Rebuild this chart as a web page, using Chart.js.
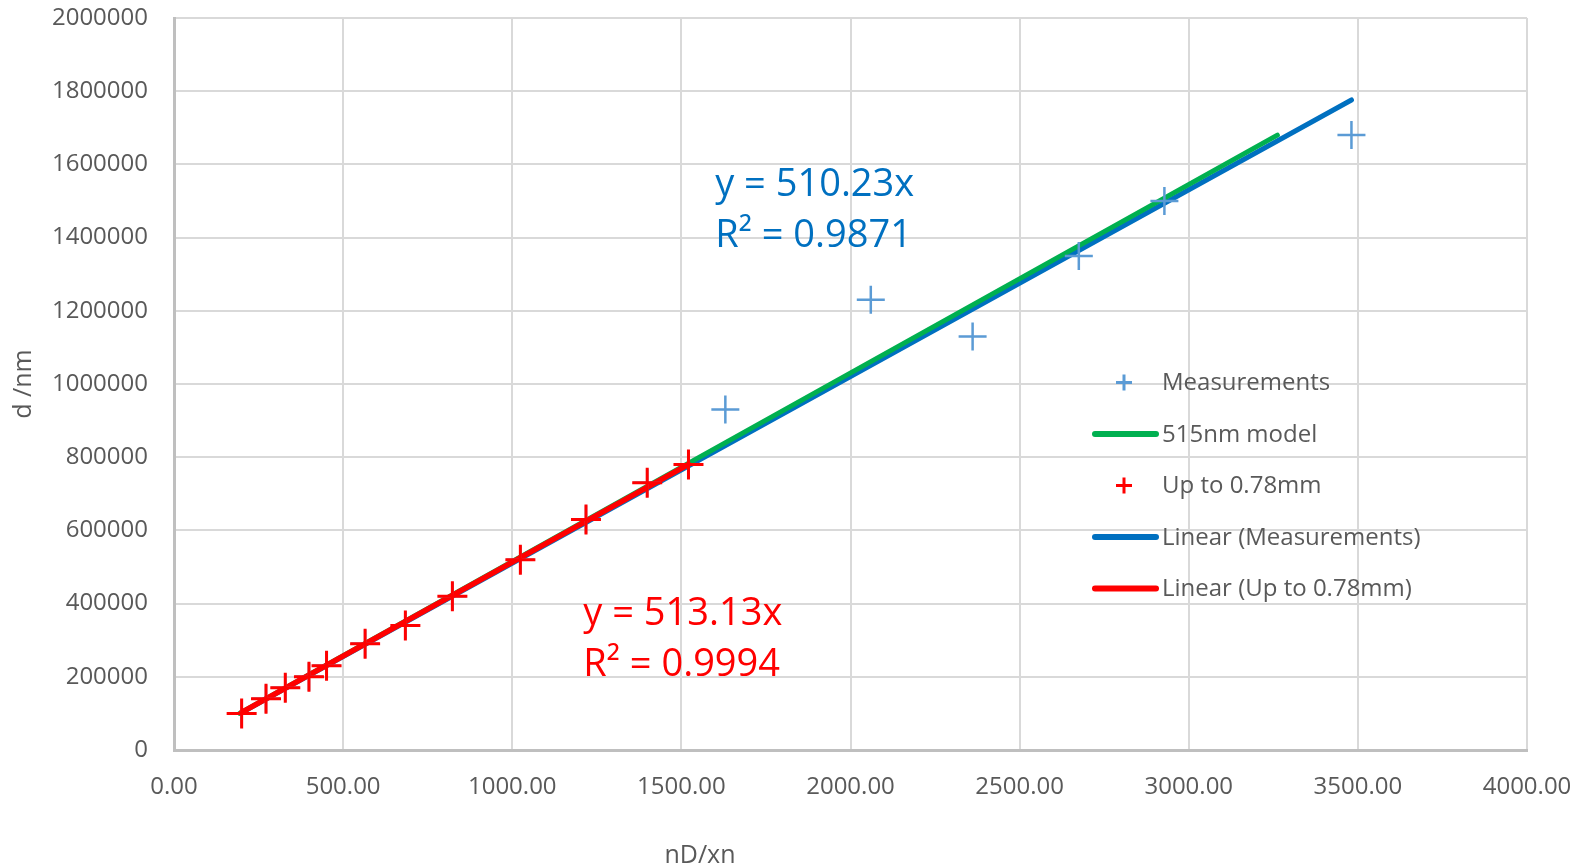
<!DOCTYPE html>
<html>
<head>
<meta charset="utf-8">
<title>Thickness vs nD/xn</title>
<script src="https://cdn.jsdelivr.net/npm/chart.js@4.4.1/dist/chart.umd.min.js"></script>
<style>
  html, body { margin: 0; padding: 0; background: #ffffff; overflow: hidden; }
  #wrap { width: 1583px; height: 868px; position: relative; }
</style>
</head>
<body>
<div id="wrap"><canvas id="chart"></canvas></div>
<script>
// ---- data -------------------------------------------------------------
// Points up to 0.78 mm thickness (nD/xn, d in nm)
const upToX = [200, 272, 329, 399, 451, 565, 684, 823, 1024, 1218, 1399, 1521];
const upToD = [100000, 140000, 170000, 200000, 230000, 290000, 340000, 420000, 520000, 630000, 730000, 780000];

// Remaining thicker measurements
const thickX = [1630, 2060, 2361, 2675, 2928, 3481];
const thickD = [930000, 1230000, 1130000, 1350000, 1500000, 1680000];

// 515 nm model line end points
const modelX = [194, 3262];
const modelD = [100000, 1680000];

// Fitted slopes (zero intercept) and coefficients of determination
const slopeAll = 510.23, r2All = 0.9871;
const slopeUpTo = 513.13, r2UpTo = 0.9994;

// Axis ticks
const xTicks = [0, 500, 1000, 1500, 2000, 2500, 3000, 3500, 4000];
const yTicks = [0, 200000, 400000, 600000, 800000, 1000000, 1200000, 1400000, 1600000, 1800000, 2000000];

const xTitle = 'nD/xn';
const yTitle = 'd /nm';

// ---- derived point lists ---------------------------------------------
const pts = (xs, ys) => xs.map((x, i) => ({ x: x, y: ys[i] }));
const allX = upToX.concat(thickX);
const allD = upToD.concat(thickD);
const fitLine = (xs, k) => {
  const lo = Math.min(...xs), hi = Math.max(...xs);
  return [{ x: lo, y: k * lo }, { x: hi, y: k * hi }];
};

const FONT = '"Open Sans", "Liberation Sans", sans-serif';
const GREY_TEXT = '#595959';

// Legend drawn inside the plot, reading labels and colours from datasets
const insideLegend = {
  id: 'insideLegend',
  afterDraw(chart) {
    const ctx = chart.ctx;
    const x0 = 1095, x1 = 1156, crossX = 1124, textX = 1162;
    const top = 382.5, step = 51.5;
    ctx.save();
    ctx.font = '24px ' + FONT;
    ctx.textAlign = 'left';
    ctx.textBaseline = 'middle';
    chart.data.datasets.forEach((ds, i) => {
      const y = top + i * step;
      ctx.strokeStyle = ds.borderColor;
      if (ds.showLine === false) {
        ctx.lineWidth = 3;
        ctx.lineCap = 'butt';
        ctx.beginPath();
        ctx.moveTo(crossX - 8, y); ctx.lineTo(crossX + 8, y);
        ctx.moveTo(crossX, y - 8); ctx.lineTo(crossX, y + 8);
        ctx.stroke();
      } else {
        ctx.lineWidth = 6;
        ctx.lineCap = 'round';
        ctx.beginPath();
        ctx.moveTo(x0, y); ctx.lineTo(x1, y);
        ctx.stroke();
      }
      ctx.fillStyle = GREY_TEXT;
      ctx.fillText(ds.label, textX, y + 1);
    });
    ctx.restore();
  }
};

// Trendline equations and the x-axis title
const annotations = {
  id: 'annotations',
  afterDraw(chart) {
    const ctx = chart.ctx;
    const xs = chart.scales.x, ys = chart.scales.y;
    const eqs = [
      { x: 1600, y: 1515000, color: '#0070C0', k: slopeAll, r2: r2All },
      { x: 1210, y: 342000, color: '#FF0000', k: slopeUpTo, r2: r2UpTo }
    ];
    ctx.save();
    ctx.font = '38px ' + FONT;
    ctx.textAlign = 'left';
    ctx.textBaseline = 'alphabetic';
    eqs.forEach(e => {
      const px = xs.getPixelForValue(e.x);
      const py = ys.getPixelForValue(e.y);
      ctx.fillStyle = e.color;
      ctx.fillText('y = ' + e.k.toFixed(2) + 'x', px, py);
      ctx.fillText('R\u00B2 = ' + e.r2.toFixed(4), px, py + 51);
    });
    ctx.font = '25px ' + FONT;
    ctx.fillStyle = GREY_TEXT;
    ctx.textAlign = 'center';
    ctx.textBaseline = 'middle';
    ctx.fillText(xTitle, 700, 856);
    ctx.restore();
  }
};

new Chart(document.getElementById('chart'), {
  type: 'scatter',
  data: {
    datasets: [
      {
        label: 'Measurements',
        data: pts(allX, allD),
        showLine: false,
        pointStyle: 'cross',
        pointRadius: 14,
        pointBorderWidth: 2.5,
        borderColor: '#5B9BD5',
        backgroundColor: '#5B9BD5',
        order: 1
      },
      {
        label: '515nm model',
        data: pts(modelX, modelD),
        showLine: true,
        borderColor: '#00B050',
        borderWidth: 5,
        borderCapStyle: 'round',
        pointRadius: 0,
        order: 3
      },
      {
        label: 'Up to 0.78mm',
        data: pts(upToX, upToD),
        showLine: false,
        pointStyle: 'cross',
        pointRadius: 15,
        pointBorderWidth: 3,
        borderColor: '#FF0000',
        backgroundColor: '#FF0000',
        order: 0
      },
      {
        label: 'Linear (Measurements)',
        data: fitLine(allX, slopeAll),
        showLine: true,
        borderColor: '#0070C0',
        borderWidth: 5,
        borderCapStyle: 'round',
        pointRadius: 0,
        order: 4
      },
      {
        label: 'Linear (Up to 0.78mm)',
        data: fitLine(upToX, slopeUpTo),
        showLine: true,
        borderColor: '#FF0000',
        borderWidth: 5.5,
        borderCapStyle: 'round',
        pointRadius: 0,
        order: 2
      }
    ]
  },
  options: {
    responsive: true,
    maintainAspectRatio: false,
    animation: false,
    events: [],
    layout: { padding: { left: 0, top: 18, right: 56, bottom: 0 } },
    plugins: {
      legend: { display: false },
      tooltip: { enabled: false }
    },
    scales: {
      x: {
        type: 'linear',
        min: xTicks[0],
        max: xTicks[xTicks.length - 1],
        afterBuildTicks(scale) { scale.ticks = xTicks.map(v => ({ value: v })); },
        ticks: {
          callback: v => Number(v).toFixed(2),
          color: GREY_TEXT,
          font: { family: FONT, size: 24 },
          padding: 23,
          maxRotation: 0,
          autoSkip: false
        },
        grid: { color: '#D9D9D9', lineWidth: 2, drawTicks: false },
        border: { color: '#BFBFBF', width: 3 },
        title: { display: false },
        afterFit(scale) {
          scale.height = 118;
          scale.paddingLeft = 0;
          scale.paddingRight = 0;
        }
      },
      y: {
        type: 'linear',
        min: yTicks[0],
        max: yTicks[yTicks.length - 1],
        afterBuildTicks(scale) { scale.ticks = yTicks.map(v => ({ value: v })); },
        ticks: {
          callback: v => String(v),
          color: GREY_TEXT,
          font: { family: FONT, size: 24 },
          padding: 26
        },
        grid: { color: '#D9D9D9', lineWidth: 2, drawTicks: false },
        border: { color: '#BFBFBF', width: 3 },
        title: {
          display: true,
          text: yTitle,
          color: GREY_TEXT,
          font: { family: FONT, size: 25 },
          padding: { top: 9, bottom: 0 }
        },
        afterFit(scale) {
          scale.width = 174;
          scale.paddingTop = 0;
          scale.paddingBottom = 0;
        }
      }
    }
  },
  plugins: [insideLegend, annotations]
});
</script>
</body>
</html>
